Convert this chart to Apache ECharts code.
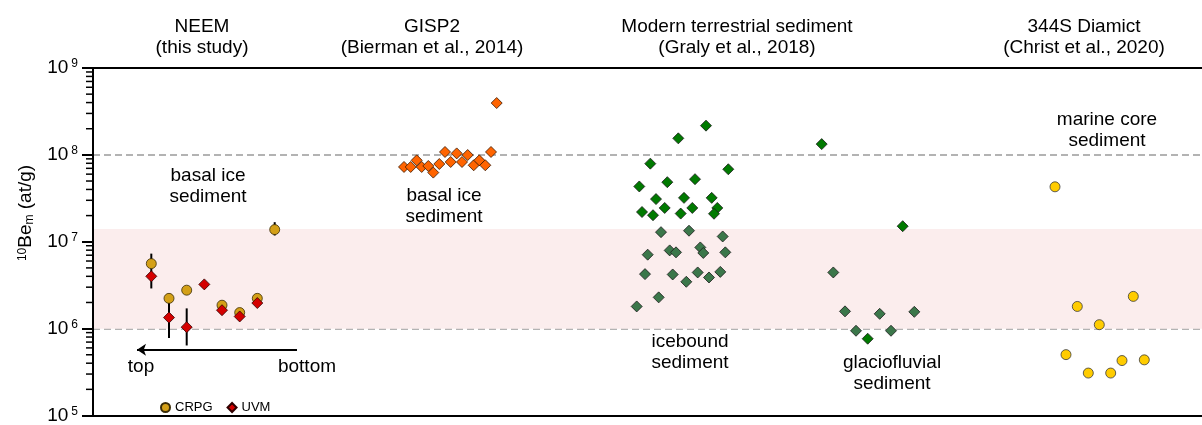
<!DOCTYPE html>
<html>
<head>
<meta charset="utf-8">
<script src="https://cdn.jsdelivr.net/npm/echarts@6/dist/echarts.min.js"></script>
<style>
html, body { margin: 0; padding: 0; background: #fff; }
#chart { width: 1202px; height: 425px; }
</style>
</head>
<body>
<div id="chart"></div>
<script>
// x = horizontal jitter position of each sample (arbitrary units), y = 10Be(m) in at/g

// NEEM (this study)
var neemCrpgX = [58.3, 76, 93.7, 129, 146.7, 164.3, 181.7];
var neemCrpgY = [5.6e6, 2.23e6, 2.77e6, 1.86e6, 1.53e6, 2.23e6, 1.38e7];
var neemUvmX = [58.3, 76, 93.7, 111.3, 129, 146.7, 164.3];
var neemUvmY = [4.0e6, 1.34e6, 1.04e6, 3.23e6, 1.63e6, 1.38e6, 1.97e6];
// error bars
var errX = [58.3, 76, 93.7, 181.7];
var errLow = [2.9e6, 7.8e5, 6.4e5, 1.18e7];
var errHigh = [7.3e6, 2.23e6, 1.71e6, 1.68e7];

// GISP2 (Bierman et al., 2014)
var gispX = [311, 317.7, 323.7, 328.7, 335.3, 340.3, 346.3, 352, 357.7, 363.7, 369, 374.7, 380.7, 386.3, 392.3, 398, 403.7];
var gispY = [7.26e7, 7.26e7, 8.65e7, 7.26e7, 7.45e7, 6.25e7, 7.85e7, 1.08e8, 8.28e7, 1.04e8, 8.28e7, 9.96e7, 7.59e7, 8.65e7, 7.59e7, 1.08e8, 3.95e8];

// Modern terrestrial sediment (Graly et al., 2018)
var iceboundX = [613, 585.3, 557.3, 635.3, 546.3, 574.3, 602, 563, 591, 618.7, 571.7, 599.3, 624.3, 549, 560, 587.7, 621,
  568, 596, 629.7, 554.7, 576.7, 583, 607.3, 610.3, 632.3, 552, 579.7, 593.3, 604.7, 616, 627.3, 565.7, 543.7];
var iceboundY = [2.17e8, 1.55e8, 7.93e7, 6.83e7, 4.33e7, 4.85e7, 5.25e7, 3.1e7, 3.2e7, 3.2e7, 2.45e7, 2.45e7, 2.45e7, 2.2e7, 2.02e7, 2.11e7, 2.1e7,
  1.29e7, 1.34e7, 1.15e7, 7.1e6, 7.95e6, 7.55e6, 8.6e6, 7.43e6, 7.55e6, 4.24e6, 4.2e6, 3.46e6, 4.43e6, 3.88e6, 4.5e6, 2.29e6, 1.8e6];
var glacioX = [728.7, 740.3, 752, 763, 774.7, 786.7, 798, 809.7, 821.3];
var glacioY = [1.33e8, 4.43e6, 1.58e6, 9.45e5, 7.65e5, 1.48e6, 9.45e5, 1.51e7, 1.56e6];

// 344S Diamict (Christ et al., 2020)
var diamictX = [962, 973, 984.3, 995.3, 1006.3, 1017.7, 1029, 1040.3, 1051.3];
var diamictY = [4.29e7, 5.02e5, 1.8e6, 3.08e5, 1.11e6, 3.08e5, 4.29e5, 2.35e6, 4.37e5];

// shaded range and the top/bottom arrow
var bandRange = [1e6, 1.4e7];
var arrowX = [204, 44];
var arrowY = 5.73e5;

// log axis minor ticks
var minorMantissas = [2, 3, 4, 5, 6, 7, 8, 9];
var minorDecades = [1e5, 1e6, 1e7, 1e8];

var FONT = 'Liberation Sans, Arial, Helvetica, sans-serif';

function zip(xs, ys) {
    return xs.map(function (x, i) { return [x, ys[i]]; });
}

var minorTicks = [];
minorDecades.forEach(function (d) {
    minorMantissas.forEach(function (m) { minorTicks.push([0, m * d]); });
});

var myChart = echarts.init(document.getElementById('chart'));

function xAxisBase(pos) {
    return {
        type: 'value', min: 0, max: 1109, position: pos,
        axisLine: { show: true, onZero: false, lineStyle: { color: '#000', width: 2 } },
        axisTick: { show: false },
        axisLabel: { show: false },
        splitLine: { show: false }
    };
}

function label(txt, x, y, size) {
    return {
        type: 'text', x: x, y: y, silent: true,
        style: {
            text: txt, font: (size || 19) + 'px ' + FONT, fill: '#000',
            align: 'center', verticalAlign: 'middle', lineHeight: 21
        }
    };
}

// green diamonds: samples in the mid range look greyer in the original
function gralyColor(params) {
    var v = params.value[1];
    return (v > 8e5 && v < 1.45e7) ? '#3B774A' : '#007A00';
}

var diamondStyle = { borderColor: '#1a1a1a', borderWidth: 0.8, opacity: 1 };

var option = {
    animation: false,
    backgroundColor: '#fff',
    grid: { left: 93, right: 0, top: 68, bottom: 7 },
    xAxis: [xAxisBase('bottom'), xAxisBase('top')],
    yAxis: {
        type: 'log', logBase: 10, min: 1e5, max: 1e9, z: 1,
        axisLine: { show: true, lineStyle: { color: '#000', width: 2 } },
        axisTick: { show: true, length: 11, lineStyle: { color: '#000', width: 2 } },
        axisLabel: {
            margin: 15,
            formatter: function (v) {
                var e = Math.round(Math.log(v) / Math.LN10);
                return '{b|10}{s|' + e + '}';
            },
            rich: {
                b: { fontSize: 19, fontFamily: FONT, color: '#000', lineHeight: 20 },
                s: { fontSize: 12, fontFamily: FONT, color: '#000', lineHeight: 12, verticalAlign: 'top', padding: [0, 0, 0, 3] }
            }
        },
        splitLine: {
            show: true, showMinLine: false, showMaxLine: false,
            lineStyle: { color: '#9a9a9a', width: 1.5, type: [7, 4] }
        }
    },
    legend: {
        left: 155, top: 396,
        itemWidth: 9, itemHeight: 9, itemGap: 14,
        textStyle: { fontFamily: FONT, fontSize: 13, color: '#000' },
        data: ['CRPG', 'UVM']
    },
    graphic: [
        label('NEEM\n(this study)', 202, 37),
        label('GISP2\n(Bierman et al., 2014)', 432, 37),
        label('Modern terrestrial sediment\n(Graly et al., 2018)', 737, 37),
        label('344S Diamict\n(Christ et al., 2020)', 1084, 37),
        label('basal ice\nsediment', 208, 186),
        label('basal ice\nsediment', 444, 206),
        label('icebound\nsediment', 690, 352),
        label('glaciofluvial\nsediment', 892, 373),
        label('marine core\nsediment', 1107, 130),
        label('top', 141, 367),
        label('bottom', 307, 367),
        {
            type: 'text', x: 26, y: 213, rotation: Math.PI / 2, silent: true,
            style: {
                text: '{sup|10}Be{sub|m} (at/g)',
                font: '19px ' + FONT, fill: '#000', align: 'center', verticalAlign: 'middle',
                rich: {
                    sup: { fontSize: 12, fontFamily: FONT, lineHeight: 12, verticalAlign: 'top' },
                    sub: { fontSize: 12, fontFamily: FONT, lineHeight: 12, verticalAlign: 'bottom' }
                }
            }
        }
    ],
    series: [
        {
            // shaded band
            name: 'band', type: 'scatter', data: [], z: 0, silent: true,
            markArea: {
                silent: true,
                itemStyle: { color: '#FBEDED' },
                data: [[{ yAxis: bandRange[0], x: 93 }, { yAxis: bandRange[1], x: 1202 }]]
            }
        },
        {
            // minor ticks on the log axis
            type: 'custom', silent: true, clip: false, z: 5,
            data: minorTicks,
            renderItem: function (params, api) {
                var pt = api.coord([0, api.value(1)]);
                return {
                    type: 'line',
                    shape: { x1: pt[0] - 7, y1: pt[1], x2: pt[0], y2: pt[1] },
                    style: { stroke: '#000', lineWidth: 1.5 }
                };
            }
        },
        {
            // error bars
            type: 'custom', silent: true, z: 2,
            data: errX.map(function (x, i) { return [x, errLow[i], errHigh[i]]; }),
            encode: { x: 0, y: [1, 2] },
            renderItem: function (params, api) {
                var lo = api.coord([api.value(0), api.value(1)]);
                var hi = api.coord([api.value(0), api.value(2)]);
                return {
                    type: 'line',
                    shape: { x1: lo[0], y1: lo[1], x2: hi[0], y2: hi[1] },
                    style: { stroke: '#000', lineWidth: 2 }
                };
            }
        },
        {
            name: 'CRPG', type: 'scatter', z: 3,
            symbol: 'circle', symbolSize: 10,
            itemStyle: { color: '#D4A017', borderColor: '#3a2c08', borderWidth: 0.8, opacity: 1 },
            data: zip(neemCrpgX, neemCrpgY),
            markLine: {
                silent: true, animation: false,
                label: { show: false },
                lineStyle: { color: '#000', width: 2, type: 'solid' },
                symbolSize: [9, 9],
                data: [[
                    { coord: [arrowX[0], arrowY], symbol: 'none' },
                    { coord: [arrowX[1], arrowY], symbol: 'arrow' }
                ]]
            }
        },
        {
            name: 'UVM', type: 'scatter', z: 4,
            symbol: 'diamond', symbolSize: 11,
            itemStyle: { color: '#D40000', borderColor: '#300000', borderWidth: 0.8, opacity: 1 },
            data: zip(neemUvmX, neemUvmY)
        },
        {
            name: 'GISP2', type: 'scatter', z: 3,
            symbol: 'diamond', symbolSize: 11,
            itemStyle: { color: '#FF6400', borderColor: '#3a1800', borderWidth: 0.8, opacity: 1 },
            data: zip(gispX, gispY)
        },
        {
            name: 'icebound', type: 'scatter', z: 3,
            symbol: 'diamond', symbolSize: 11,
            itemStyle: Object.assign({ color: gralyColor }, diamondStyle),
            data: zip(iceboundX, iceboundY)
        },
        {
            name: 'glaciofluvial', type: 'scatter', z: 3,
            symbol: 'diamond', symbolSize: 11,
            itemStyle: Object.assign({ color: gralyColor }, diamondStyle),
            data: zip(glacioX, glacioY)
        },
        {
            name: '344S', type: 'scatter', z: 3,
            symbol: 'circle', symbolSize: 10,
            itemStyle: { color: '#FFCC00', borderColor: '#3a3a3a', borderWidth: 0.8, opacity: 1 },
            data: zip(diamictX, diamictY)
        }
    ]
};

myChart.setOption(option);

window.addEventListener('resize', function () {
    myChart.resize();
});
</script>
</body>
</html>
